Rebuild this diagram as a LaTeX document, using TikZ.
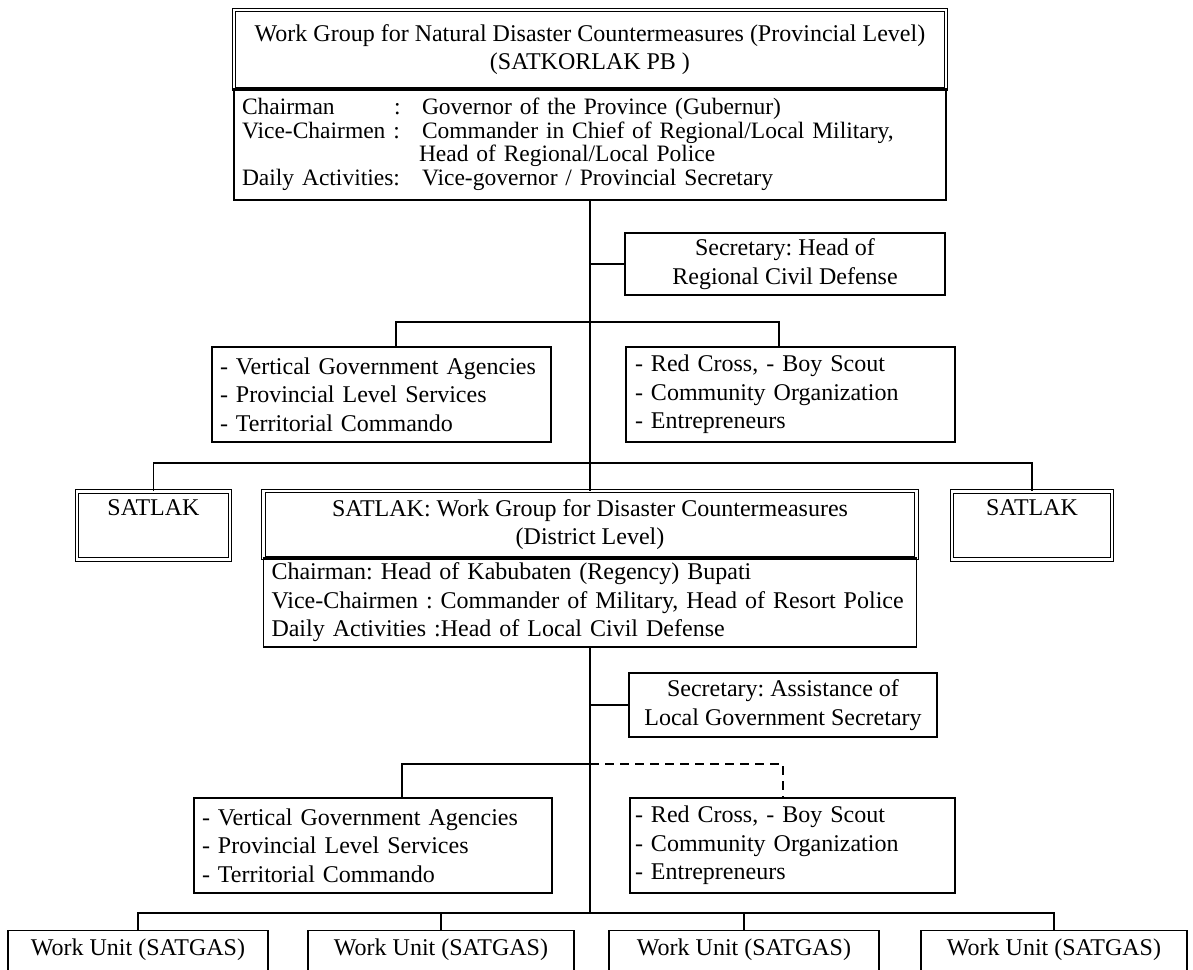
\documentclass[tikz,border=0pt]{standalone}
\usepackage{fontspec}
\setmainfont{Liberation Serif}
\frenchspacing

\begin{document}
\begin{tikzpicture}[x=1pt,y=-1pt,line width=1.4pt]
  \tikzstyle{BoxStyle}=[draw,inner sep=0pt,font=\fontsize{24}{28.5}\selectfont]
  \tikzstyle{DoubleStyle}=[BoxStyle,double,double distance=2.4pt,line width=1pt]
  \tikzstyle{InfoStyle}=[BoxStyle,align=left,font=\fontsize{23.5}{23.5}\selectfont]
  \tikzstyle{ListStyle}=[BoxStyle,align=left,minimum height=95]
  \tikzstyle{SideStyle}=[DoubleStyle,anchor=north,inner ysep=5pt,text height=19pt,text depth=39pt]
  \tikzstyle{UnitStyle}=[BoxStyle,anchor=north,inner ysep=4pt,text height=21pt,text depth=31pt]
  \useasboundingbox (0,0) rectangle (1193,969);
  \clip (0,0) rectangle (1193,969);
  % provincial level
  \node[DoubleStyle,minimum width=712,minimum height=79,align=center] (Prov) at (590,49.5)
    {Work Group for Natural Disaster Countermeasures (Provincial Level)\\(SATKORLAK PB )};
  \node[InfoStyle,text width=696,inner xsep=8pt,minimum height=111] (ProvInfo) at (590,144.5)
    {\makebox[152pt][l]{Chairman}\makebox[28pt][l]{:}Governor of the Province (Gubernur)\\
     \makebox[180pt][l]{Vice-Chairmen :}Commander in Chief of Regional/Local Military,\\
     \hspace*{177pt}Head of Regional/Local Police\\
     \makebox[180pt][l]{Daily Activities:}Vice-governor / Provincial Secretary};
  \node[BoxStyle,minimum width=320,minimum height=62,align=center] (SecProv) at (785,264)
    {Secretary: Head of\\Regional Civil Defense};
  \node[ListStyle,text width=323,inner xsep=8pt] (GovProv) at (381.5,394.5)
    {- Vertical Government Agencies\\- Provincial Level Services\\- Territorial Commando};
  \node[ListStyle,text width=311,inner xsep=9pt] (OrgProv) at (790.5,394.5)
    {- Red Cross, - Boy Scout\\- Community Organization\\- Entrepreneurs};
  % district level
  \node[SideStyle,minimum width=153] (DistL) at (153.5,491) {SATLAK};
  \node[SideStyle,minimum width=160] (DistR) at (1032,491) {SATLAK};
  \node[DoubleStyle,minimum width=653,minimum height=67,align=center] (Dist) at (590,524.5)
    {SATLAK: Work Group for Disaster Countermeasures\\(District Level)};
  \node[BoxStyle,align=left,text width=637,inner xsep=8pt,minimum height=89] (DistInfo) at (590,602.5)
    {Chairman: Head of Kabubaten (Regency) Bupati\\
     Vice-Chairmen : Commander of Military, Head of Resort Police\\
     Daily Activities :Head of Local Civil Defense};
  \node[BoxStyle,minimum width=308,minimum height=64,align=center] (SecDist) at (783,705)
    {Secretary: Assistance of\\Local Government Secretary};
  \node[ListStyle,text width=342,inner xsep=8pt] (GovDist) at (373,845.5)
    {- Vertical Government Agencies\\- Provincial Level Services\\- Territorial Commando};
  \node[ListStyle,text width=315,inner xsep=5pt] (OrgDist) at (792.5,845.5)
    {- Red Cross, - Boy Scout\\- Community Organization\\- Entrepreneurs};
  % work units
  \node[UnitStyle,minimum width=260] (Unit1) at (138,930) {Work Unit (SATGAS)};
  \node[UnitStyle,minimum width=266] (Unit2) at (441,930) {Work Unit (SATGAS)};
  \node[UnitStyle,minimum width=270] (Unit3) at (744,930) {Work Unit (SATGAS)};
  \node[UnitStyle,minimum width=266] (Unit4) at (1054,930) {Work Unit (SATGAS)};
  % connectors
  \coordinate (ProvBusL) at (396,322);
  \coordinate (ProvBusR) at (779,322);
  \coordinate (DistBus) at (590,463);
  \coordinate (DistBusL) at (402,764);
  \coordinate (DashR) at (783,764);
  \coordinate (UnitBus) at (590,913);
  \draw (ProvInfo.south) -- (Dist.north);
  \draw (ProvInfo.south |- SecProv.west) -- (SecProv.west);
  \draw (GovProv.north -| ProvBusL) -- (ProvBusL) -- (ProvBusR) -- (ProvBusR |- OrgProv.north);
  \draw (DistL.north) -- (DistL.north |- DistBus) -- (DistR.north |- DistBus) -- (DistR.north);
  \draw (DistInfo.south) -- (UnitBus);
  \draw (DistInfo.south |- SecDist.west) -- (SecDist.west);
  \draw (DistInfo.south |- DistBusL) -- (DistBusL) -- (DistBusL |- GovDist.north);
  \draw[dash pattern=on 9pt off 6pt] (DistInfo.south |- DashR) -- (DashR) -- (DashR |- OrgDist.north);
  \draw (Unit1.north) |- (Unit4.north |- UnitBus) -- (Unit4.north);
  \draw (Unit2.north) -- (Unit2.north |- UnitBus);
  \draw (Unit3.north) -- (Unit3.north |- UnitBus);
%  \draw (Prov.south) -- (ProvInfo.north);
\end{tikzpicture}
\end{document}
